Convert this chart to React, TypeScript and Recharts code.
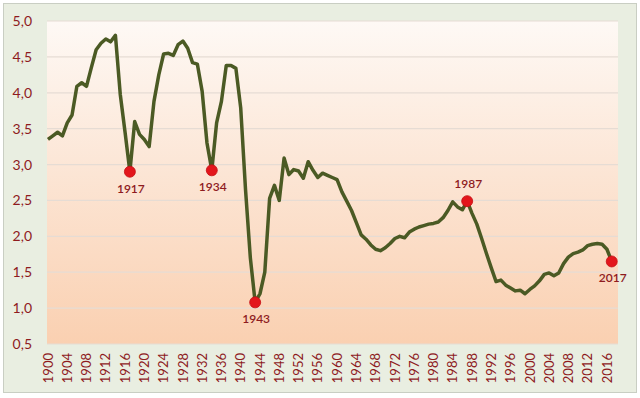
import React from "react";
import { LineChart, Line, XAxis, YAxis, CartesianGrid } from "recharts";

const startYear = 1900;
// one value per year, 1900..2017
const values: number[] = [
  3.35, 3.4, 3.45, 3.4, 3.58, 3.69, 4.09, 4.14, 4.09, 4.35,
  4.6, 4.69, 4.75, 4.71, 4.8, 3.98, 3.45, 2.9, 3.6, 3.42,
  3.35, 3.25, 3.88, 4.25, 4.54, 4.55, 4.52, 4.67, 4.72, 4.62,
  4.42, 4.4, 4.02, 3.3, 2.92, 3.58, 3.88, 4.38, 4.38, 4.34,
  3.79, 2.65, 1.7, 1.08, 1.2, 1.5, 2.53, 2.71, 2.5, 3.09,
  2.86, 2.93, 2.91, 2.81, 3.04, 2.92, 2.82, 2.88, 2.85, 2.82,
  2.79, 2.62, 2.49, 2.36, 2.19, 2.02, 1.96, 1.88, 1.82, 1.8,
  1.84, 1.9, 1.97, 2.0, 1.98, 2.06, 2.1, 2.13, 2.15, 2.17,
  2.18, 2.2, 2.26, 2.36, 2.48, 2.41, 2.37, 2.49, 2.32, 2.17,
  1.97, 1.76, 1.56, 1.37, 1.39, 1.32, 1.28, 1.24, 1.25, 1.2,
  1.26, 1.31, 1.38, 1.47, 1.49, 1.45, 1.49, 1.62, 1.71, 1.76,
  1.78, 1.81, 1.87, 1.89, 1.9, 1.89, 1.82, 1.65,
];

const highlightYears = [1917, 1934, 1943, 1987, 2017];
const labelAbove = [false, false, false, true, false];

const xTicks = [
  1900, 1904, 1908, 1912, 1916, 1920, 1924, 1928, 1932, 1936, 1940, 1944, 1948,
  1952, 1956, 1960, 1964, 1968, 1972, 1976, 1980, 1984, 1988, 1992, 1996, 2000,
  2004, 2008, 2012, 2016,
];
const yTicks = [0.5, 1.0, 1.5, 2.0, 2.5, 3.0, 3.5, 4.0, 4.5, 5.0];

const data = values.map((v, i) => ({ year: startYear + i, value: v }));

const LABEL_COLOR = "#8e1b1e";
const FONT = "Lato, 'Open Sans', sans-serif";

const XTick = (props: any) => {
  const { x, y, payload } = props;
  return (
    <g transform={`translate(${x},${y + 1})`}>
      <text
        transform="rotate(-90)"
        textAnchor="end"
        dy="0.36em"
        fill={LABEL_COLOR}
        fontSize={13}
        fontFamily={FONT}
      >
        {payload.value}
      </text>
    </g>
  );
};

const Dot = (props: any) => {
  const { cx, cy, payload, index } = props;
  const k = highlightYears.indexOf(payload.year);
  if (k < 0) return <g key={`d${index}`} />;
  const above = labelAbove[k];
  return (
    <g key={`d${index}`}>
      <circle cx={cx} cy={cy} r={5.5} fill="#e3161c" stroke="#c40f14" strokeWidth={0.8} />
      <text
        x={cx + 1}
        y={above ? cy - 13 : cy + 21}
        textAnchor="middle"
        fill={LABEL_COLOR}
        fontSize={12}
        fontWeight={600}
        fontFamily={FONT}
      >
        {payload.year}
      </text>
    </g>
  );
};

export default function App() {
  return (
    <div style={{ position: "absolute", left: 0, top: 0, width: 640, height: 398, background: "#ffffff" }}>
      <div
        style={{
          position: "absolute",
          left: 3,
          top: 3,
          width: 632,
          height: 388,
          background: "#e9eee1",
          border: "1px solid #c9cec3",
        }}
      />
      <div style={{ position: "absolute", left: 0, top: 0 }}>
        <LineChart
          width={640}
          height={398}
          data={data}
          margin={{ top: 21, right: 22, left: 7, bottom: 4 }}
        >
          <defs>
            <linearGradient id="plotBg" x1="0" y1="0" x2="0" y2="1">
              <stop offset="0%" stopColor="#fef9f5" />
              <stop offset="45%" stopColor="#fce6d6" />
              <stop offset="100%" stopColor="#fad0b1" />
            </linearGradient>
          </defs>
          <CartesianGrid
            vertical={false}
            fill="url(#plotBg)"
            fillOpacity={1}
            stroke="#e6dcd4"
            strokeWidth={1.2}
          />
          <XAxis
            dataKey="year"
            type="number"
            domain={[1899.8, 2018.3]}
            ticks={xTicks}
            interval={0}
            axisLine={false}
            tickLine={false}
            height={50}
            tick={<XTick />}
          />
          <YAxis
            type="number"
            domain={[0.5, 5]}
            ticks={yTicks}
            interval={0}
            axisLine={false}
            tickLine={false}
            width={40}
            tickMargin={9}
            tick={{ fill: LABEL_COLOR, fontSize: 14, fontFamily: FONT }}
            tickFormatter={(v: number) => v.toFixed(1).replace(".", ",")}
          />
          <Line
            type="linear"
            dataKey="value"
            stroke="#4b5a24"
            strokeWidth={3.5}
            strokeLinejoin="round"
            dot={<Dot />}
            activeDot={false}
            isAnimationActive={false}
          />
        </LineChart>
      </div>
    </div>
  );
}
